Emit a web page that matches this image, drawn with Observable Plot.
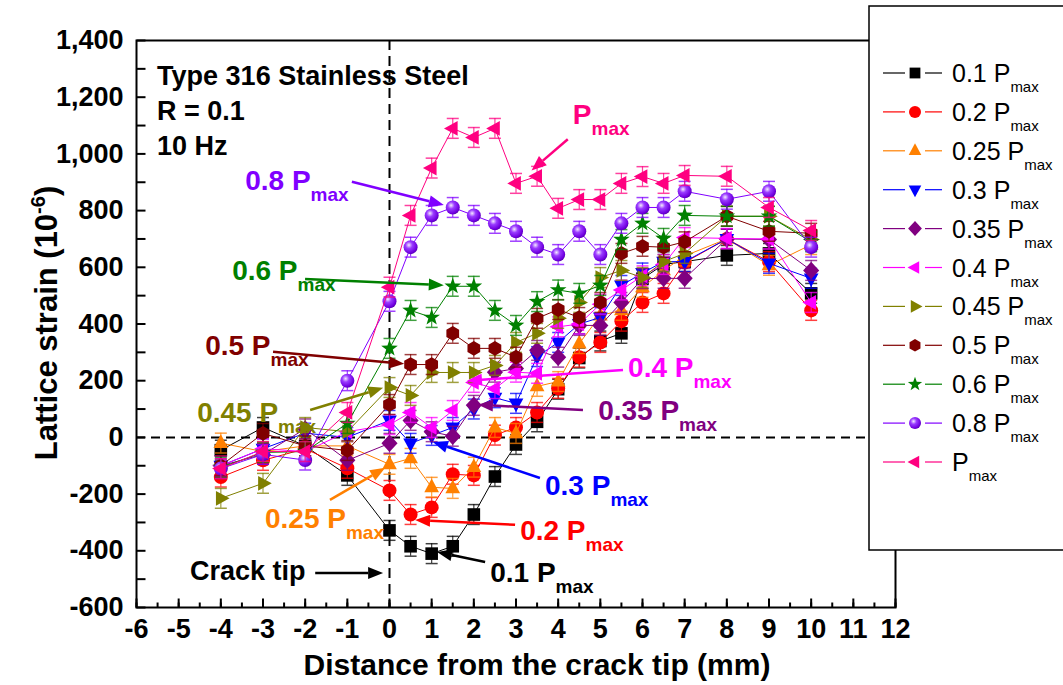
<!DOCTYPE html>
<html><head><meta charset="utf-8">
<script src="https://cdn.jsdelivr.net/npm/d3@7"></script>
<script src="https://cdn.jsdelivr.net/npm/@observablehq/plot@0.6"></script>
<style>
html,body{margin:0;padding:0;background:#fff;}
#chart{position:relative;width:1063px;height:685px;overflow:hidden;}
</style></head><body><div id="chart"></div>
<script>
// ---------- data ----------
const distance = [-4,-3,-2,-1,0,0.5,1,1.5,2,2.5,3,3.5,4,4.5,5,5.5,6,6.5,7,8,9,10];
const strain01   = [-45,35,-30,-134,-328,-384,-410,-384,-272,-138,-25,55,170,280,340,367,560,610,620,642,649,508];
const strain02   = [-140,-81,-40,-109,-187,-272,-247,-130,-134,8,35,88,173,283,335,410,476,508,617,700,620,448];
const strain025  = [-20,-50,-30,-30,-95,-74,-176,-180,-105,35,14,180,197,331,430,448,529,589,640,700,607,680];
const strain03   = [-100,-40,15,0,60,-21,7,35,100,140,120,285,335,400,423,536,580,620,620,700,614,561];
const strain035  = [-100,-60,30,-81,-21,60,20,4,113,230,243,307,283,395,395,476,560,561,561,700,698,589];
const strain04   = [-100,-40,-50,20,45,88,35,95,194,172,230,226,390,400,470,520,570,610,705,702,700,476];
const strain045  = [-215,-162,35,20,176,148,229,229,229,254,335,367,420,476,564,589,564,620,649,780,780,698];
const strain05   = [-100,14,-30,-46,116,257,257,367,314,314,283,420,451,423,476,649,674,671,690,780,727,720];
const strain06   = [-106,-53,-50,49,314,448,423,533,533,448,395,479,520,508,536,698,755,702,783,780,780,690];
const strain08   = [-110,-60,-80,200,480,671,783,811,783,755,727,671,645,727,645,755,811,811,868,840,868,671];
const strainPmax = [-110,-50,-50,88,530,783,950,1090,1058,1090,896,921,808,839,839,896,920,896,924,921,811,730];
const errorHalf = 35;
const seriesLoads = ["0.1 P","0.2 P","0.25 P","0.3 P","0.35 P","0.4 P","0.45 P","0.5 P","0.6 P","0.8 P","P"];
const seriesValues = [strain01,strain02,strain025,strain03,strain035,strain04,strain045,strain05,strain06,strain08,strainPmax];
const xTickLabels = d3.range(-6,13,1);
const xMinorTicks = d3.range(-6,12.01,0.5);
const yTickLabels = d3.range(-600,1401,200);
const yMinorTicks = d3.range(-600,1401,100);
const infoLines = ["Type 316 Stainless Steel","R = 0.1","10 Hz"];
// annotation labels: [text, series index, text x, text baseline y, arrow from x,y, arrow to x,y] (data units)
const annotations = [
  ["P",10, 4.36,1104, 4.24,1050, 3.38,940],
  ["0.8 P",9, -3.41,871, -0.88,900, 1.30,818],
  ["0.6 P",8, -3.72,554, -1.99,557, 1.30,535],
  ["0.5 P",7, -4.36,289, -2.75,300, 0.36,258],
  ["0.45 P",6, -4.55,53, -1.87,95, -0.14,173],
  ["0.4 P",5, 5.67,212, 5.55,236, 1.85,198],
  ["0.35 P",4, 4.96,60, 4.60,95, 2.11,113],
  ["0.3 P",3, 3.70,-205, 3.58,-145, 1.04,-18],
  ["0.25 P",2, -2.94,-321, -1.40,-222, -0.09,-109],
  ["0.2 P",1, 3.11,-363, 2.99,-310, 0.62,-293],
  ["0.1 P",0, 2.40,-511, 2.28,-441, 1.14,-406]
];

// ---------- styles ----------
const colors = ["#000000","#FF0000","#FF8000","#0000FF","#800080","#FF00FF","#808000","#800000","#008000","#8000FF","#FF0080"];
const shapes = ["square","circle","up","down","diamond","left","right","hexagon","star","sphere","left"];
const FONT = "'Liberation Sans', Arial, sans-serif";

function poly(pts){
  return {draw(ctx,size){const r=Math.sqrt(size/Math.PI);
    pts.forEach(([a,b],i)=> i?ctx.lineTo(a*r,b*r):ctx.moveTo(a*r,b*r)); ctx.closePath();}};
}
const symbols = {
  square: poly([[-0.9,-0.9],[0.9,-0.9],[0.9,0.9],[-0.9,0.9]]),
  circle: d3.symbolCircle,
  up: poly([[0,-1.25],[1.05,0.7],[-1.05,0.7]]),
  down: poly([[0,1.25],[1.05,-0.7],[-1.05,-0.7]]),
  left: poly([[-1.25,0],[0.7,-1.05],[0.7,1.05]]),
  right: poly([[1.25,0],[-0.7,-1.05],[-0.7,1.05]]),
  diamond: poly([[0,-1.25],[1.15,0],[0,1.25],[-1.15,0]]),
  hexagon: poly(d3.range(6).map(i=>[1.05*Math.sin(i*Math.PI/3),-1.05*Math.cos(i*Math.PI/3)])),
  star: poly(d3.range(10).map(i=>{const rr=i%2?0.5:1.25;const a=i*Math.PI/5;return [rr*Math.sin(a),-rr*Math.cos(a)];})),
  sphere: d3.symbolCircle
};
const capSym = {draw(ctx){ctx.moveTo(-6,0);ctx.lineTo(6,0);}};
const yTickSym = {draw(ctx){ctx.moveTo(0,0);ctx.lineTo(9,0);}};
const xTickSym = {draw(ctx){ctx.moveTo(0,0);ctx.lineTo(0,-9);}};
const xMinorSym = {draw(ctx){ctx.moveTo(0,0);ctx.lineTo(0,-5);}};

// ---------- marks ----------
const dataMarks = [];
seriesValues.forEach((vals,k)=>{
  const rows = distance.map((x,i)=>({x, y:vals[i], lo:vals[i]-errorHalf, hi:vals[i]+errorHalf}));
  const c = colors[k];
  dataMarks.push(
    Plot.line(rows,{x:"x",y:"y",stroke:c,strokeWidth:1}),
    Plot.ruleX(rows,{x:"x",y1:"lo",y2:"hi",stroke:c,strokeWidth:1.2,strokeOpacity:0.75}),
    Plot.dot(rows,{x:"x",y:"lo",symbol:capSym,r:1,fill:"none",stroke:c,strokeWidth:1.5,strokeOpacity:0.75}),
    Plot.dot(rows,{x:"x",y:"hi",symbol:capSym,r:1,fill:"none",stroke:c,strokeWidth:1.5,strokeOpacity:0.75}),
    Plot.dot(rows,{x:"x",y:"y",symbol:symbols[shapes[k]],r:7,
      fill: shapes[k]==="sphere" ? "url(#sphereGrad)" : c, stroke:"none"})
  );
});

const plot = Plot.plot({
  width:1063, height:685,
  marginLeft:136, marginRight:168, marginTop:40, marginBottom:78,
  x:{domain:[-6,12]}, y:{domain:[-600,1400]},
  style:{fontFamily:FONT, fontWeight:"bold", fontSize:"27px", background:"white", color:"black", overflow:"visible"},
  marks:[
    Plot.ruleY([0],{stroke:"black",strokeWidth:2,strokeDasharray:"9,6"}),
    Plot.ruleX([0],{stroke:"black",strokeWidth:2,strokeDasharray:"10,6"}),
    ...dataMarks,
    Plot.axisY(yTickLabels,{tickSize:0,tickPadding:13,tickFormat:d=>d.toLocaleString("en-US"),label:null,fontSize:27,fontWeight:"bold"}),
    Plot.axisX(xTickLabels,{tickSize:0,tickPadding:11,tickFormat:d=>String(d),label:null,fontSize:27,fontWeight:"bold"}),
    Plot.dot(yMinorTicks,{y:d=>d,frameAnchor:"left",symbol:yTickSym,r:1,fill:"none",stroke:"black",strokeWidth:2}),
    Plot.dot(xTickLabels,{x:d=>d,frameAnchor:"bottom",symbol:xTickSym,r:1,fill:"none",stroke:"black",strokeWidth:2}),
    Plot.dot(xMinorTicks,{x:d=>d,frameAnchor:"bottom",symbol:xMinorSym,r:1,fill:"none",stroke:"black",strokeWidth:2}),
    Plot.frame({stroke:"black",strokeWidth:2})
  ]
});
document.getElementById("chart").appendChild(plot);

// ---------- decorations via scales ----------
const svg = d3.select(plot);
const defs = svg.insert("defs",":first-child");
const grad = defs.append("radialGradient").attr("id","sphereGrad").attr("cx","0.38").attr("cy","0.35").attr("r","0.7");
grad.append("stop").attr("offset","0").attr("stop-color","#f4eaff");
grad.append("stop").attr("offset","0.35").attr("stop-color","#9a3cff");
grad.append("stop").attr("offset","0.8").attr("stop-color","#7000e0");
grad.append("stop").attr("offset","1").attr("stop-color","#5200a8");

const sx = plot.scale("x"), sy = plot.scale("y");
const X = v=>sx.apply(v), Y = v=>sy.apply(v);
const g = svg.append("g").attr("font-family",FONT).attr("font-weight","bold").attr("text-anchor","start");

function arrow(x1,y1,x2,y2,color){
  const dx=x2-x1, dy=y2-y1, L=Math.hypot(dx,dy), ux=dx/L, uy=dy/L;
  const hl=15, hw=6;
  const bx=x2-ux*hl, by=y2-uy*hl;
  g.append("line").attr("x1",x1).attr("y1",y1).attr("x2",bx).attr("y2",by)
    .attr("stroke",color).attr("stroke-width",2.5);
  g.append("path").attr("d",`M${x2},${y2}L${bx-uy*hw},${by+ux*hw}L${bx+uy*hw},${by-ux*hw}Z`).attr("fill",color);
}

// info text
infoLines.forEach((t,i)=>{
  g.append("text").attr("x",X(-5.5)).attr("y",[85,120,155][i]).attr("font-size",27).attr("fill","black").text(t);
});

annotations.forEach(([t,k,tx,ty,ax1,ay1,ax2,ay2])=>{
  const c = colors[k];
  const txt = g.append("text").attr("x",X(tx)).attr("y",Y(ty)).attr("fill",c).attr("font-size",28);
  txt.append("tspan").text(t);
  txt.append("tspan").attr("dy",11).attr("font-size",19).text("max");
  arrow(X(ax1),Y(ay1),X(ax2),Y(ay2),c);
});
// crack tip
g.append("text").attr("x",X(-4.72)).attr("y",Y(-504)).attr("font-size",27).attr("fill","black").text("Crack tip");
arrow(X(-1.75),Y(-480),X(-0.14),Y(-480),"black");

// axis titles
g.append("text").attr("x",537).attr("y",675).attr("text-anchor","middle").attr("font-size",30).text("Distance from the crack tip (mm)");
const yt = g.append("text").attr("transform","translate(57,323) rotate(-90)").attr("text-anchor","middle").attr("font-size",31);
yt.append("tspan").text("Lattice strain (10");
yt.append("tspan").attr("dy",-12).attr("font-size",20).text("-6");
yt.append("tspan").attr("dy",12).text(")");

// legend
const lg = svg.append("g").attr("font-family",FONT).attr("text-anchor","start");
lg.append("rect").attr("x",869).attr("y",6).attr("width",210).attr("height",544).attr("fill","white").attr("stroke","black").attr("stroke-width",1.5);
seriesLoads.forEach((name,k)=>{
  const cy = 73 + k*38.9, c = colors[k];
  lg.append("line").attr("x1",883).attr("x2",905).attr("y1",cy).attr("y2",cy).attr("stroke",c).attr("stroke-width",1.2);
  lg.append("line").attr("x1",925).attr("x2",942).attr("y1",cy).attr("y2",cy).attr("stroke",c).attr("stroke-width",1.2);
  const sym = symbols[shapes[k]];
  lg.append("path").attr("transform",`translate(915,${cy})`)
    .attr("d",d3.symbol(sym, Math.PI*6*6)())
    .attr("fill", shapes[k]==="sphere" ? "url(#sphereGrad)" : c);
  const t = lg.append("text").attr("x",952).attr("y",cy+9).attr("font-size",25).attr("font-weight","normal").attr("fill","black");
  t.append("tspan").text(name);
  t.append("tspan").attr("dy",10).attr("font-size",15).text("max");
});
</script></body></html>
